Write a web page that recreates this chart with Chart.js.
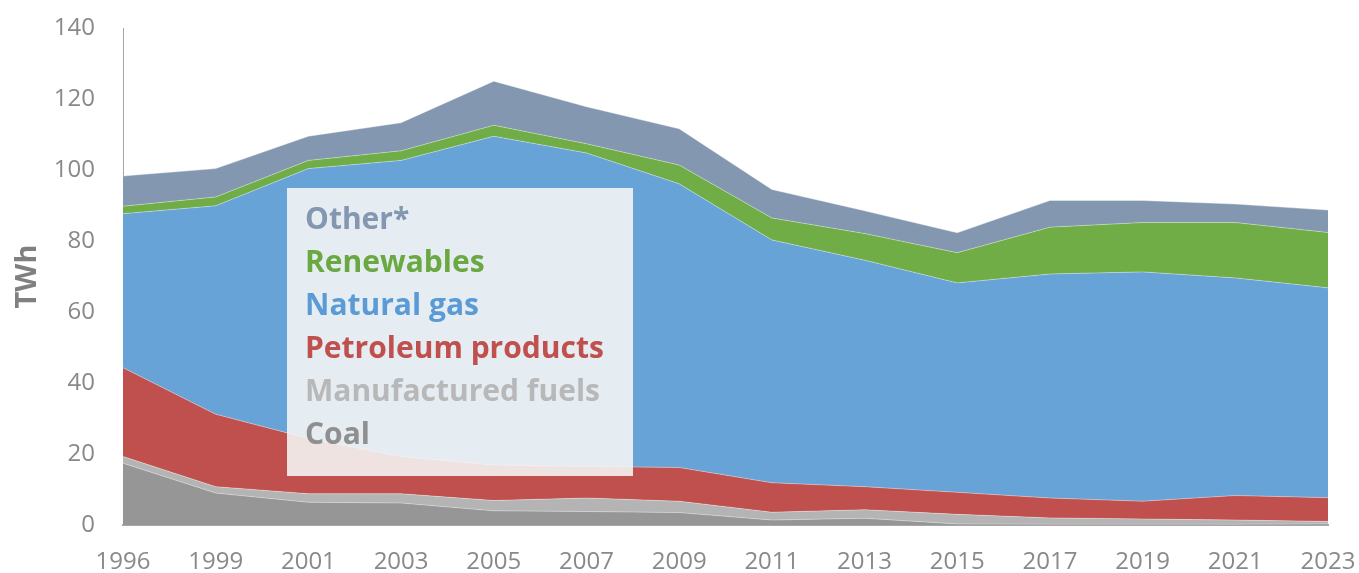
<!DOCTYPE html>
<html>
<head>
<meta charset="utf-8">
<script src="https://cdn.jsdelivr.net/npm/chart.js@4.4.1/dist/chart.umd.min.js"></script>
<style>
  body { margin: 0; background: #fff; }
  #wrap { position: relative; width: 1359px; height: 573px; }
  #legendBox {
    position: absolute; left: 287px; top: 188px; width: 346px; height: 288px;
    background: rgba(245, 245, 245, 0.89);
    box-sizing: border-box; padding: 8px 0 0 18px;
    font-family: "Open Sans", sans-serif; font-weight: 700; font-size: 30px; line-height: 43px;
  }
  #legendBox div { white-space: nowrap; }
</style>
</head>
<body>
<div id="wrap">
  <canvas id="energyChart" width="1359" height="573"></canvas>
  <div id="legendBox"></div>
</div>
<script>
// ---------------------- DATOS ----------------------
const years = ["1996", "1999", "2001", "2003", "2005", "2007", "2009", "2011", "2013", "2015", "2017", "2019", "2021", "2023"];

// TWh por fuente (de abajo hacia arriba en la pila)
const coal        = [17.4, 9.0, 6.4, 6.2, 4.0, 3.8, 3.5, 1.4, 1.9, 0.3, 0.2, 0.2, 0.2, 0.3];
const manufFuels  = [1.9, 1.8, 2.4, 2.6, 2.9, 3.8, 3.2, 2.2, 2.4, 2.7, 1.8, 1.5, 1.2, 0.7];
const petroleum   = [25.0, 20.4, 15.6, 10.5, 10.0, 8.9, 9.5, 8.3, 6.5, 6.2, 5.6, 5.0, 6.9, 6.7];
const naturalGas  = [43.4, 58.7, 76.0, 83.4, 92.6, 88.3, 79.9, 68.4, 63.8, 59.0, 63.1, 64.6, 61.3, 59.1];
const renewables  = [2.1, 2.5, 2.3, 2.7, 3.1, 2.6, 5.3, 6.2, 7.5, 8.5, 13.2, 13.9, 15.6, 15.6];
const other       = [8.5, 8.0, 6.8, 7.9, 12.4, 10.4, 10.2, 8.0, 6.4, 5.6, 7.5, 6.2, 5.2, 6.3];

const yTicks = [0, 20, 40, 60, 80, 100, 120, 140];

const series = [
  { label: "Coal", data: coal, color: "#969696", text: "#8f8f8f" },
  { label: "Manufactured fuels", data: manufFuels, color: "#b4b4b4", text: "#b8b8b8" },
  { label: "Petroleum products", data: petroleum, color: "#c0504d", text: "#c0504d" },
  { label: "Natural gas", data: naturalGas, color: "#67a3d7", text: "#5b9bd5" },
  { label: "Renewables", data: renewables, color: "#70ad47", text: "#6aa842" },
  { label: "Other*", data: other, color: "#8497b0", text: "#8497b0" },
];

// ---------------------- LEYENDA ----------------------
const legendBox = document.getElementById("legendBox");
legendBox.innerHTML = series
  .slice()
  .reverse()
  .map((s) => `<div style="color:${s.text}">${s.label}</div>`)
  .join("");

// ---------------------- GRAFICO ----------------------
new Chart(document.getElementById("energyChart"), {
  type: "line",
  data: {
    labels: years,
    datasets: series.map((s, i) => ({
      label: s.label,
      data: s.data,
      backgroundColor: s.color,
      borderColor: "rgba(255,255,255,0.35)",
      borderWidth: 1,
      pointRadius: 0,
      tension: 0,
      fill: i === 0 ? "origin" : "-1",
    })),
  },
  options: {
    responsive: false,
    animation: false,
    layout: { padding: { top: 28, right: 31, left: 0, bottom: 0 } },
    plugins: { legend: { display: false }, tooltip: { enabled: false } },
    scales: {
      x: {
        grid: { display: false, drawTicks: false },
        border: { display: true, color: "#a6a6a6", width: 2 },
        ticks: {
          color: "#898989",
          font: { family: "Open Sans", size: 24 },
          padding: 23,
          maxRotation: 0,
          autoSkip: false,
        },
        afterFit: (scale) => {
          scale.height = 48;
          scale.paddingLeft = 0;
          scale.paddingRight = 0;
        },
      },
      y: {
        stacked: true,
        min: 0,
        max: 140,
        afterBuildTicks: (scale) => { scale.ticks = yTicks.map((v) => ({ value: v })); },
        grid: { display: false, drawTicks: false },
        border: { display: true, color: "#a6a6a6", width: 1 },
        ticks: {
          color: "#898989",
          font: { family: "Open Sans", size: 24 },
          padding: 28,
        },
        title: {
          display: true,
          text: "TWh",
          color: "#808080",
          font: { family: "Open Sans", size: 29, weight: "bold" },
          padding: { top: 10, bottom: 0 },
        },
        afterFit: (scale) => {
          scale.width = 123;
          scale.paddingTop = 0;
          scale.paddingBottom = 0;
        },
      },
    },
  },
});
</script>
</body>
</html>
